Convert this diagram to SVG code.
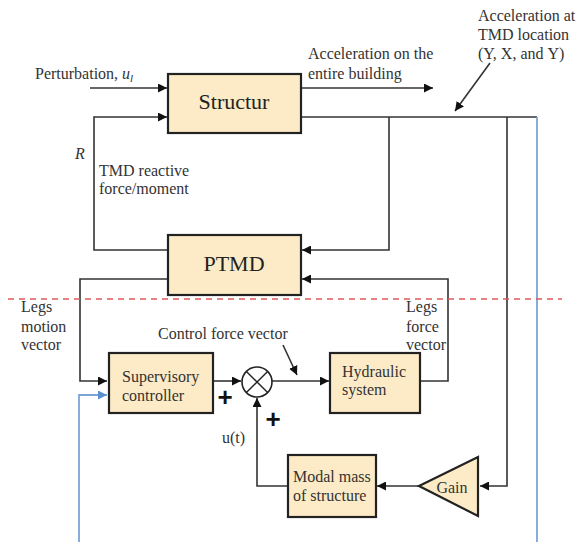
<svg xmlns="http://www.w3.org/2000/svg" width="577" height="542" viewBox="0 0 577 542">
<style>
.box{fill:#fcebc6;stroke:#222;stroke-width:2.2}
.ln{fill:none;stroke:#333;stroke-width:1.6}
.bl{fill:none;stroke:#7aa6d6;stroke-width:1.8}
.t{font-family:"Liberation Serif","Times New Roman",serif;font-size:16px;fill:#333}
.big{font-family:"Liberation Serif","Times New Roman",serif;font-size:22px;fill:#222;text-anchor:middle}
.plus{font-family:"Liberation Sans",Arial,sans-serif;font-weight:bold;font-size:26px;fill:#111;text-anchor:middle}
</style>
<defs>
<marker id="ah" viewBox="0 0 10 10" refX="10" refY="5" markerWidth="9" markerHeight="9" markerUnits="userSpaceOnUse" orient="auto"><path d="M0,0L10,5L0,10z" fill="#111"/></marker>
<marker id="ahb" viewBox="0 0 10 10" refX="10" refY="5" markerWidth="9" markerHeight="9" markerUnits="userSpaceOnUse" orient="auto"><path d="M0,0L10,5L0,10z" fill="#5b8fcf"/></marker>
</defs>
<rect width="577" height="542" fill="#fff"/>

<g id="connectors">
<path class="ln" d="M90,88H167" marker-end="url(#ah)"/>
<path class="ln" d="M168,250H94V117H167" marker-end="url(#ah)"/>
<path class="ln" d="M301,88H433" marker-end="url(#ah)"/>
<path class="ln" d="M301,117H537"/>
<path class="ln" d="M389,117V250H302" marker-end="url(#ah)"/>
<path class="ln" d="M507,117V486H480" marker-end="url(#ah)"/>
<path class="bl" d="M537,117V542"/>
<path class="bl" d="M79,542V395H107" marker-end="url(#ahb)"/>
<path class="ln" d="M168,279H80V381H107" marker-end="url(#ah)"/>
<path class="ln" d="M213,381H241" marker-end="url(#ah)"/>
<path class="ln" d="M272,381H329" marker-end="url(#ah)"/>
<path class="ln" d="M420,381H448V279H302" marker-end="url(#ah)"/>
<path class="ln" d="M419,486H377" marker-end="url(#ah)"/>
<path class="ln" d="M288,486H257V398" marker-end="url(#ah)"/>
<path class="ln" d="M490,63L455,111" marker-end="url(#ah)"/>
<path class="ln" d="M283,345L297,375" marker-end="url(#ah)"/>
<path d="M8,299H562" fill="none" stroke="#e05a5a" stroke-width="1.5" stroke-dasharray="6,5"/>
</g>

<g id="structur">
<rect class="box" x="168" y="74" width="133" height="59"/>
<text class="big" x="234" y="109">Structur</text>
</g>
<g id="ptmd">
<rect class="box" x="168" y="235" width="133" height="60"/>
<text class="big" x="234" y="271">PTMD</text>
</g>
<g id="supervisory">
<rect class="box" x="109" y="353" width="104" height="60"/>
<text class="t" x="122" y="382">Supervisory</text>
<text class="t" x="122" y="401">controller</text>
</g>
<g id="sum">
<circle cx="257" cy="382" r="15" fill="#fff" stroke="#222" stroke-width="1.6"/>
<path d="M246.4,371.4L267.6,392.6M267.6,371.4L246.4,392.6" stroke="#222" stroke-width="1.4"/>
</g>
<g id="hydraulic">
<rect class="box" x="330" y="353" width="90" height="60"/>
<text class="t" x="342" y="377">Hydraulic</text>
<text class="t" x="342" y="395">system</text>
</g>
<g id="modal">
<rect class="box" x="288" y="455" width="88" height="62"/>
<text class="t" x="293" y="482">Modal mass</text>
<text class="t" x="293" y="501">of structure</text>
</g>
<g id="gain">
<polygon class="box" points="419,486 478,457 478,516"/>
<text class="t" x="452" y="493" text-anchor="middle">Gain</text>
</g>

<g id="labels">
<text class="t" x="35" y="79">Perturbation, <tspan font-style="italic">u</tspan><tspan font-style="italic" font-size="11" dy="3">l</tspan></text>
<text class="t" x="308" y="59">Acceleration on the</text>
<text class="t" x="308" y="79">entire building</text>
<text class="t" x="478" y="21">Acceleration at</text>
<text class="t" x="478" y="40">TMD location</text>
<text class="t" x="478" y="59">(Y, X, and Υ)</text>
<text class="t" x="75" y="159" font-style="italic">R</text>
<text class="t" x="99" y="176">TMD reactive</text>
<text class="t" x="99" y="194">force/moment</text>
<text class="t" x="21" y="312">Legs</text>
<text class="t" x="21" y="332">motion</text>
<text class="t" x="21" y="350">vector</text>
<text class="t" x="406" y="312">Legs</text>
<text class="t" x="406" y="332">force</text>
<text class="t" x="406" y="350">vector</text>
<text class="t" x="158" y="339">Control force vector</text>
<text class="t" x="222" y="443">u(t)</text>
<text class="plus" x="225" y="406">+</text>
<text class="plus" x="273" y="428">+</text>
</g>
</svg>
